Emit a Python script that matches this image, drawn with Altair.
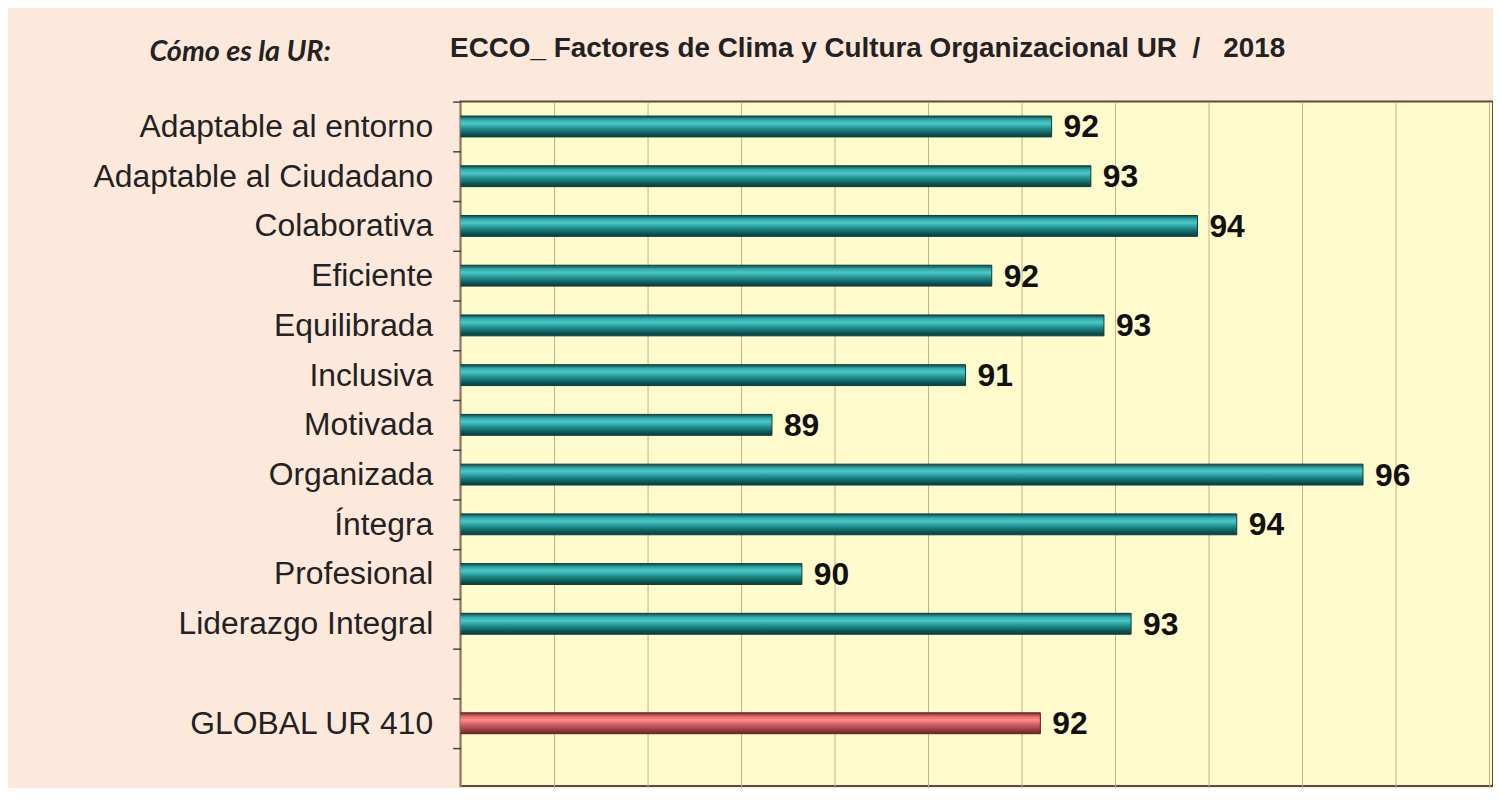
import altair as alt
import pandas as pd

# ---- data ----
categories = ["Adaptable al entorno", "Adaptable al Ciudadano", "Colaborativa", "Eficiente",
              "Equilibrada", "Inclusiva", "Motivada", "Organizada", "Íntegra",
              "Profesional", "Liderazgo Integral"]
values = [92.32, 92.74, 93.88, 91.68, 92.88, 91.40, 89.33, 95.65, 94.30, 89.65, 93.17]
global_label = ["GLOBAL UR 410"]
global_value = [92.20]
blank_rows = ["\u00a0", "\u00a0\u00a0"]
grid_values = list(range(86, 98))

df = pd.DataFrame({
    "cat": categories + global_label,
    "value": values + global_value,
    "group": ["factor"] * len(categories) + ["global"],
})
y_domain = categories + [blank_rows[0]] + global_label + [blank_rows[1]]

FONT = "Liberation Sans"
MAIN_TITLE = "ECCO_ Factores de Clima y Cultura Organizacional UR\u00a0\u00a0/\u00a0\u00a0\u00a02018"

teal = alt.Gradient(gradient="linear", x1=0, x2=0, y1=0, y2=1, stops=[
    alt.GradientStop(color="#0d4848", offset=0.0),
    alt.GradientStop(color="#2fa9a9", offset=0.18),
    alt.GradientStop(color="#4cc8c8", offset=0.35),
    alt.GradientStop(color="#1f8e8e", offset=0.6),
    alt.GradientStop(color="#0f5656", offset=0.85),
    alt.GradientStop(color="#0a3b3b", offset=1.0),
])
red = alt.Gradient(gradient="linear", x1=0, x2=0, y1=0, y2=1, stops=[
    alt.GradientStop(color="#7a2a2a", offset=0.0),
    alt.GradientStop(color="#e06a6a", offset=0.18),
    alt.GradientStop(color="#ff8c8c", offset=0.35),
    alt.GradientStop(color="#c85a5a", offset=0.6),
    alt.GradientStop(color="#8e3a3a", offset=0.85),
    alt.GradientStop(color="#6a2424", offset=1.0),
])

x_enc = alt.X("value:Q",
              scale=alt.Scale(domain=[86, 97.04], zero=False, nice=False),
              axis=alt.Axis(orient="top", values=grid_values, labels=False, ticks=False,
                            domain=False, grid=True, gridColor="#bfb28a", gridWidth=1,
                            title=MAIN_TITLE, titleX=-11, titleY=-53, titleAlign="left",
                            titleBaseline="middle", titleFont=FONT, titleFontSize=28,
                            titleFontWeight="bold", titleColor="#222222"))
y_enc = alt.Y("cat:N",
              scale=alt.Scale(domain=y_domain, range=[0, 700], paddingInner=0, paddingOuter=0),
              sort=None,
              axis=alt.Axis(title="Cómo es la UR:", titleAngle=0, titleX=-222, titleY=-50,
                            titleAlign="center", titleBaseline="middle",
                            titleFont="Lato", titleFontSize=29, titleFontWeight="bold",
                            titleFontStyle="italic", titleColor="#222222",
                            labelFont=FONT, labelFontSize=32, labelColor="#222222",
                            labelPadding=20, labelLimit=0,
                            tickBand="extent", tickSize=8, tickColor="#444444", tickWidth=1.5,
                            domain=False, grid=False))

base = alt.Chart(df)

bars_f = base.transform_filter(alt.datum.group == "factor").mark_bar(
    fill=teal, stroke="#123c3c", strokeWidth=1, size=21, clip=True
).encode(x=x_enc, y=y_enc)

bars_g = base.transform_filter(alt.datum.group == "global").mark_bar(
    fill=red, stroke="#5a2020", strokeWidth=1, size=21, clip=True
).encode(x=x_enc, y=y_enc)

labels = base.mark_text(
    align="left", baseline="middle", dx=12, dy=1, font=FONT, fontSize=32,
    fontWeight="bold", color="#111111"
).encode(x=x_enc, y=y_enc, text=alt.Text("value:Q", format=".0f"))

chart = alt.layer(bars_f, bars_g, labels).properties(
    width=1038,
    height=688,
    background="#fde9dc",
    padding={"left": 455, "top": 92, "right": 0, "bottom": 0},
    autosize=alt.AutoSizeParams(type="none"),
).configure_view(
    fill="#fffbcc", stroke="#5e4b38", strokeWidth=2
)

chart.save("out.html", embed_options={"renderer": "svg", "actions": False})
